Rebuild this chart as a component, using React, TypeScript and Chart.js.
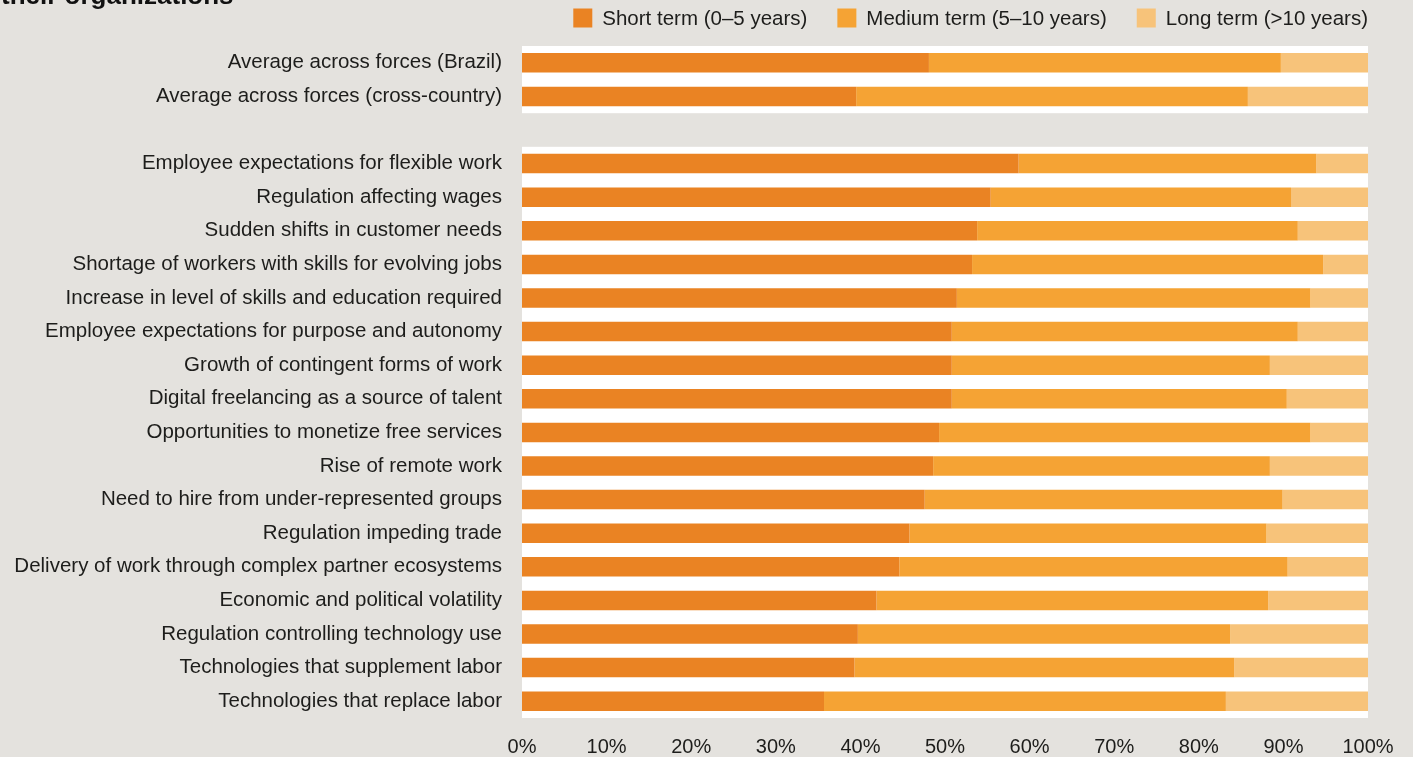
import React, { useEffect, useRef } from "react";
import { Chart, registerables } from "chart.js";

Chart.register(...registerables);

const titleText = "their organizations";

const categories = [
  "Average across forces (Brazil)",
  "Average across forces (cross-country)",
  "",
  "Employee expectations for flexible work",
  "Regulation affecting wages",
  "Sudden shifts in customer needs",
  "Shortage of workers with skills for evolving jobs",
  "Increase in level of skills and education required",
  "Employee expectations for purpose and autonomy",
  "Growth of contingent forms of work",
  "Digital freelancing as a source of talent",
  "Opportunities to monetize free services",
  "Rise of remote work",
  "Need to hire from under-represented groups",
  "Regulation impeding trade",
  "Delivery of work through complex partner ecosystems",
  "Economic and political volatility",
  "Regulation controlling technology use",
  "Technologies that supplement labor",
  "Technologies that replace labor",
];

const shortTerm = [48.1, 39.5, null, 58.7, 55.4, 53.8, 53.2, 51.4, 50.8, 50.8, 50.8, 49.3, 48.6, 47.6, 45.8, 44.6, 41.9, 39.7, 39.3, 35.7];
const mediumTerm = [41.6, 46.3, null, 35.2, 35.5, 37.9, 41.5, 41.8, 40.9, 37.6, 39.6, 43.9, 39.8, 42.3, 42.2, 45.9, 46.3, 44.0, 44.9, 47.5];
const longTerm = [10.3, 14.2, null, 6.1, 9.1, 8.3, 5.3, 6.8, 8.3, 11.6, 9.6, 6.8, 11.6, 10.1, 12.0, 9.5, 11.8, 16.3, 15.8, 16.8];

const seriesNames = ["Short term (0\u20135 years)", "Medium term (5\u201310 years)", "Long term (>10 years)"];
const xTicks = [0, 10, 20, 30, 40, 50, 60, 70, 80, 90, 100];

const panelGroups = [
  [0, 1],
  [3, 19],
];

const colors = ["#EA8323", "#F5A334", "#F7C37A"];
const textColor = "#1d1d1b";
const FONT = '"Liberation Sans", Arial, sans-serif';

const panelPlugin = {
  id: "panels",
  beforeDatasetsDraw(chart: any) {
    const { ctx, chartArea, scales } = chart;
    const y = scales.y;
    const half = (y.getPixelForValue(1) - y.getPixelForValue(0)) / 2;
    ctx.save();
    ctx.fillStyle = "#ffffff";
    for (const [a, b] of panelGroups) {
      const top = y.getPixelForValue(a) - half;
      const bottom = y.getPixelForValue(b) + half;
      ctx.fillRect(chartArea.left, top, chartArea.right - chartArea.left, bottom - top);
    }
    ctx.restore();
  },
};

const legendPlugin = {
  id: "customLegend",
  afterDraw(chart: any) {
    const { ctx, chartArea } = chart;
    ctx.save();
    ctx.font = `20.5px ${FONT}`;
    ctx.textBaseline = "middle";
    ctx.textAlign = "left";
    const box = 19;
    const gap = 10;
    const spacing = 30;
    const yMid = 18;
    let x = chartArea.right;
    const ds = chart.data.datasets;
    for (let i = ds.length - 1; i >= 0; i--) {
      const label = ds[i].label;
      const w = ctx.measureText(label).width;
      const textX = x - w;
      const boxX = textX - gap - box;
      ctx.fillStyle = ds[i].backgroundColor;
      ctx.fillRect(boxX, yMid - box / 2, box, box);
      ctx.fillStyle = textColor;
      ctx.fillText(label, textX, yMid + 1);
      x = boxX - spacing;
    }
    ctx.restore();
  },
};

const titlePlugin = {
  id: "cutTitle",
  afterDraw(chart: any) {
    const { ctx } = chart;
    ctx.save();
    ctx.font = `bold 26px ${FONT}`;
    ctx.fillStyle = "#111111";
    ctx.textBaseline = "alphabetic";
    ctx.textAlign = "left";
    ctx.fillText(titleText, 1, 4);
    ctx.restore();
  },
};

export default function App() {
  const canvasRef = useRef<HTMLCanvasElement | null>(null);

  useEffect(() => {
    if (!canvasRef.current) return;
    const chart = new Chart(canvasRef.current, {
      type: "bar",
      data: {
        labels: categories,
        datasets: [
          { label: seriesNames[0], data: shortTerm, backgroundColor: colors[0] },
          { label: seriesNames[1], data: mediumTerm, backgroundColor: colors[1] },
          { label: seriesNames[2], data: longTerm, backgroundColor: colors[2] },
        ] as any,
      },
      options: {
        indexAxis: "y",
        animation: false,
        responsive: true,
        maintainAspectRatio: false,
        datasets: {
          bar: { barPercentage: 0.58, categoryPercentage: 1, borderWidth: 0 },
        },
        layout: { padding: { top: 46, right: 45, left: 0, bottom: 0 } },
        plugins: {
          legend: { display: false },
          tooltip: { enabled: false },
          title: { display: false },
        },
        scales: {
          x: {
            stacked: true,
            min: 0,
            max: 100,
            afterBuildTicks: (scale: any) => {
              scale.ticks = xTicks.map((v) => ({ value: v }));
            },
            afterFit: (scale: any) => {
              scale.height = 39;
            },
            grid: { display: false, drawTicks: false, tickLength: 0 },
            border: { display: false },
            ticks: {
              padding: 17,
              color: textColor,
              font: { family: FONT, size: 20 },
              callback: (v: any) => `${v}%`,
              maxRotation: 0,
              autoSkip: false,
            },
          },
          y: {
            stacked: true,
            afterFit: (scale: any) => {
              scale.width = 522;
            },
            grid: { display: false, drawTicks: false, tickLength: 0 },
            border: { display: false },
            ticks: {
              padding: 20,
              color: textColor,
              font: { family: FONT, size: 20.5 },
              autoSkip: false,
            },
          },
        },
      },
      plugins: [panelPlugin, legendPlugin, titlePlugin],
    } as any);
    return () => chart.destroy();
  }, []);

  return (
    <div
      style={{
        position: "absolute",
        left: 0,
        top: 0,
        width: 1413,
        height: 757,
        background: "#E4E2DE",
        overflow: "hidden",
      }}
    >
      <canvas ref={canvasRef} />
    </div>
  );
}
